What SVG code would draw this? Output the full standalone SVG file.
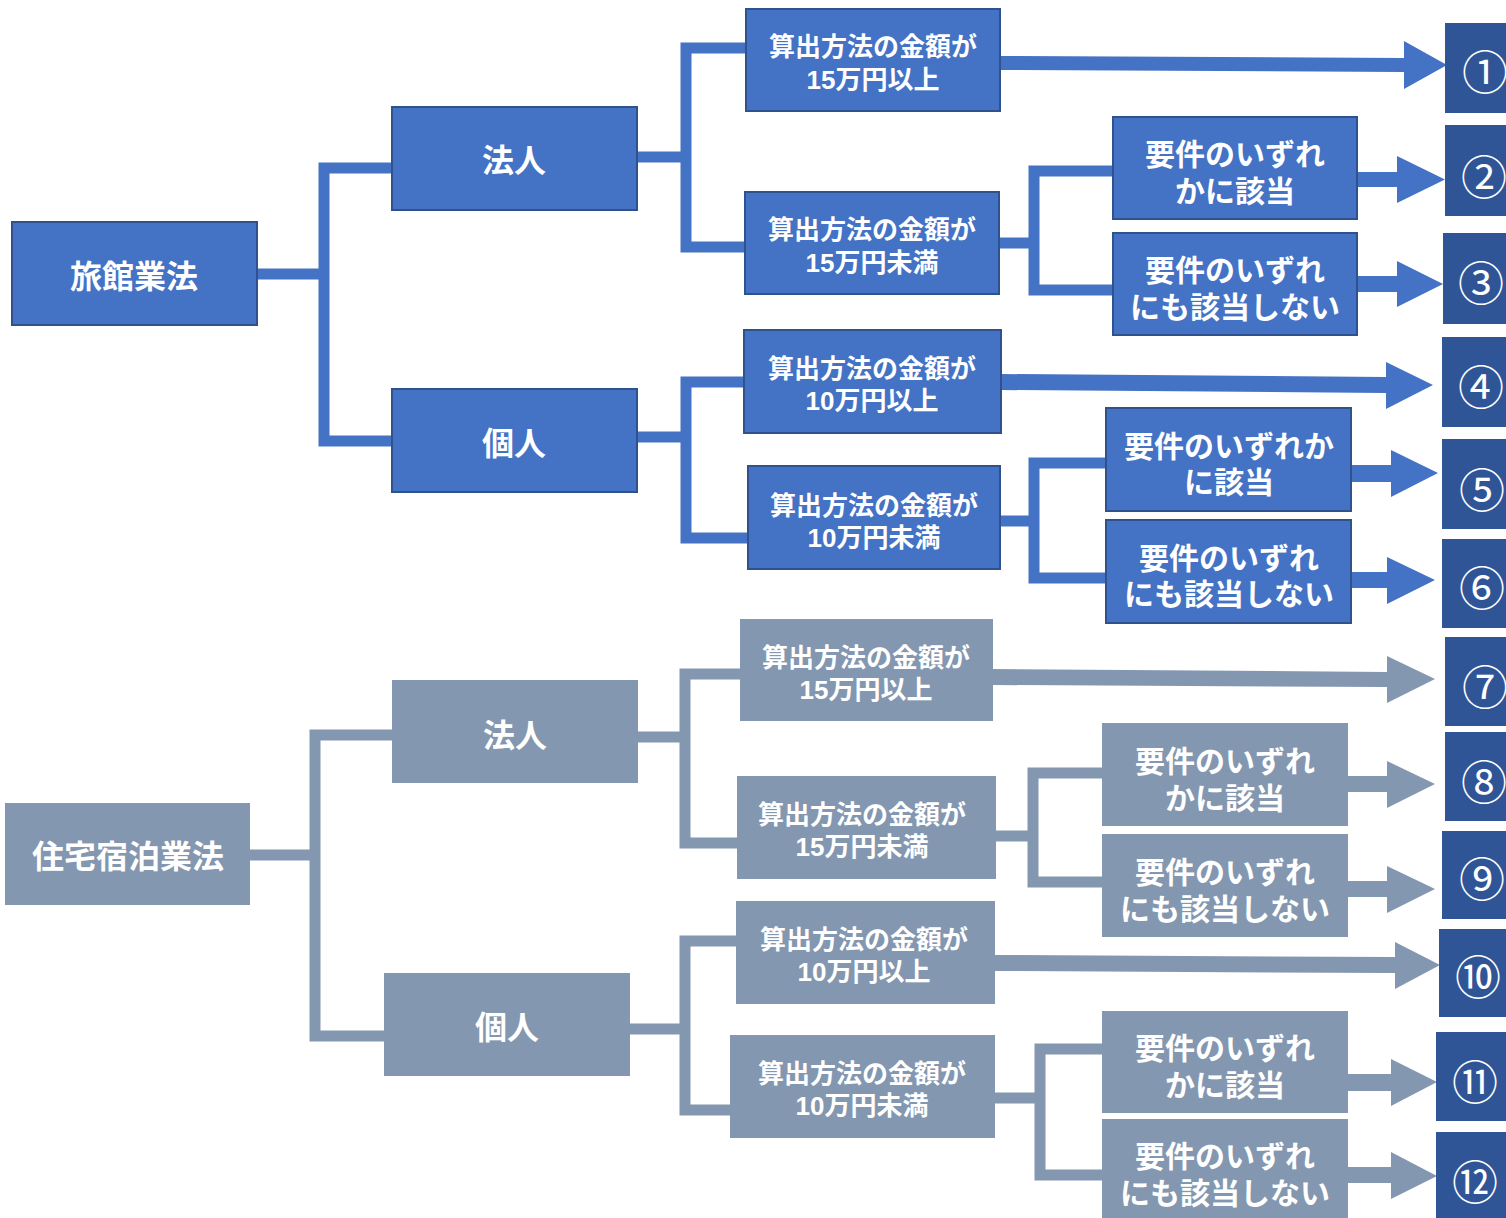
<svg xmlns="http://www.w3.org/2000/svg" width="1506" height="1218" viewBox="0 0 1506 1218">
<style>
.b{fill:#4472C4;stroke:#2F528F;stroke-width:2}
.g{fill:#8497B0}
.n{fill:#2F5597}
.cb{fill:none;stroke:#4472C4;stroke-width:11;stroke-linejoin:miter}
.cg{fill:none;stroke:#8497B0;stroke-width:11;stroke-linejoin:miter}
.ab{fill:#4472C4}
.ag{fill:#8497B0}
text{font-family:"Liberation Sans","Noto Sans CJK JP",sans-serif;fill:#fff;text-anchor:middle;dominant-baseline:central}
.l,.m,.r{transform:translateY(2px)}
.l{font-size:32px;font-weight:bold}
.m{font-size:26px;font-weight:bold}
.r{font-size:30px;font-weight:bold}
.num{font-family:"Noto Sans CJK JP",sans-serif;font-size:46px;font-weight:normal}
</style>
<rect width="1506" height="1218" fill="#fff"/>
<g id="connectors">
<path class="cb" d="M257,274 H324 V168 H392 M324,274 V441 H392"/>
<path class="cb" d="M637,157 H686 V48 H746 M686,157 V247 H745"/>
<path class="cb" d="M637,437 H686 V382 H744 M686,437 V538 H748"/>
<path class="cb" d="M999,243 H1034 V171 H1113 M1034,243 V290 H1113"/>
<path class="cb" d="M1000,521 H1034 V463 H1106 M1034,521 V578 H1106"/>
<path class="cg" d="M250,855 H315 V735 H392 M315,855 V1036 H384"/>
<path class="cg" d="M638,737 H685 V674 H740 M685,737 V843 H737"/>
<path class="cg" d="M630,1029 H685 V941 H736 M685,1029 V1110 H730"/>
<path class="cg" d="M996,836 H1033 V773 H1102 M1033,836 V882 H1102"/>
<path class="cg" d="M995,1098 H1040 V1049 H1102 M1040,1098 V1175 H1102"/>
<polygon class="ab" points="1000,56 1404,58 1404,41 1447,65 1404,89 1404,72 1000,70"/>
<polygon class="ab" points="1357,172 1397,172 1397,156 1445,179.5 1397,203 1397,187 1357,187"/>
<polygon class="ab" points="1357,276 1397,276 1397,261 1443,284 1397,307 1397,292 1357,292"/>
<polygon class="ab" points="1001,374 1386,377 1386,362 1433,385 1386,409 1386,393 1001,390"/>
<polygon class="ab" points="1351,465 1391,465 1391,450 1438,473 1391,497 1391,482 1351,482"/>
<polygon class="ab" points="1351,572 1387,572 1387,557 1435,580 1387,604 1387,588 1351,588"/>
<polygon class="ag" points="993,669 1387,672 1387,656 1435,679 1387,703 1387,687 993,685"/>
<polygon class="ag" points="1348,776 1387,776 1387,761 1435,784 1387,808 1387,792 1348,792"/>
<polygon class="ag" points="1348,881 1387,881 1387,866 1435,889 1387,913 1387,897 1348,897"/>
<polygon class="ag" points="995,955 1395,957 1395,942 1440,965 1395,989 1395,973 995,971"/>
<polygon class="ag" points="1348,1074 1391,1074 1391,1059 1437,1082 1391,1106 1391,1091 1348,1091"/>
<polygon class="ag" points="1348,1167 1391,1167 1391,1152 1437,1176 1391,1199 1391,1183 1348,1183"/>
</g>
<g id="ryokan"><rect class="b" x="12" y="222" width="245" height="103"/><text class="l" x="134" y="275">旅館業法</text></g>
<g id="r-hojin"><rect class="b" x="392" y="107" width="245" height="103"/><text class="l" x="514" y="159">法人</text></g>
<g id="r-kojin"><rect class="b" x="392" y="389" width="245" height="103"/><text class="l" x="514" y="442">個人</text></g>
<g id="r-h-ijo"><rect class="b" x="746" y="9" width="254" height="102"/><text class="m"><tspan x="873" y="45">算出方法の金額が</tspan><tspan x="873" y="78">15万円以上</tspan></text></g>
<g id="r-h-miman"><rect class="b" x="745" y="192" width="254" height="102"/><text class="m"><tspan x="872" y="228">算出方法の金額が</tspan><tspan x="872" y="261">15万円未満</tspan></text></g>
<g id="r-h-gai"><rect class="b" x="1113" y="117" width="244" height="102"/><text class="r"><tspan x="1235" y="152">要件のいずれ</tspan><tspan x="1235" y="189">かに該当</tspan></text></g>
<g id="r-h-hi"><rect class="b" x="1113" y="233" width="244" height="102"/><text class="r"><tspan x="1235" y="268">要件のいずれ</tspan><tspan x="1235" y="305">にも該当しない</tspan></text></g>
<g id="r-k-ijo"><rect class="b" x="744" y="330" width="257" height="103"/><text class="m"><tspan x="872" y="367">算出方法の金額が</tspan><tspan x="872" y="399">10万円以上</tspan></text></g>
<g id="r-k-miman"><rect class="b" x="748" y="466" width="252" height="103"/><text class="m"><tspan x="874" y="504">算出方法の金額が</tspan><tspan x="874" y="536">10万円未満</tspan></text></g>
<g id="r-k-gai"><rect class="b" x="1106" y="408" width="245" height="103"/><text class="r"><tspan x="1229" y="444">要件のいずれか</tspan><tspan x="1229" y="480">に該当</tspan></text></g>
<g id="r-k-hi"><rect class="b" x="1106" y="520" width="245" height="103"/><text class="r"><tspan x="1229" y="556">要件のいずれ</tspan><tspan x="1229" y="592">にも該当しない</tspan></text></g>
<g id="jutaku"><rect class="g" x="5" y="803" width="245" height="102"/><text class="l" x="128" y="855">住宅宿泊業法</text></g>
<g id="j-hojin"><rect class="g" x="392" y="680" width="246" height="103"/><text class="l" x="515" y="734">法人</text></g>
<g id="j-kojin"><rect class="g" x="384" y="973" width="246" height="103"/><text class="l" x="507" y="1026">個人</text></g>
<g id="j-h-ijo"><rect class="g" x="740" y="619" width="253" height="102"/><text class="m"><tspan x="866" y="656">算出方法の金額が</tspan><tspan x="866" y="688">15万円以上</tspan></text></g>
<g id="j-h-miman"><rect class="g" x="737" y="776" width="259" height="103"/><text class="m"><tspan x="862" y="813">算出方法の金額が</tspan><tspan x="862" y="845">15万円未満</tspan></text></g>
<g id="j-h-gai"><rect class="g" x="1102" y="723" width="246" height="103"/><text class="r"><tspan x="1225" y="759">要件のいずれ</tspan><tspan x="1225" y="796">かに該当</tspan></text></g>
<g id="j-h-hi"><rect class="g" x="1102" y="834" width="246" height="103"/><text class="r"><tspan x="1225" y="870">要件のいずれ</tspan><tspan x="1225" y="907">にも該当しない</tspan></text></g>
<g id="j-k-ijo"><rect class="g" x="736" y="901" width="259" height="103"/><text class="m"><tspan x="864" y="938">算出方法の金額が</tspan><tspan x="864" y="970">10万円以上</tspan></text></g>
<g id="j-k-miman"><rect class="g" x="730" y="1035" width="265" height="103"/><text class="m"><tspan x="862" y="1072">算出方法の金額が</tspan><tspan x="862" y="1104">10万円未満</tspan></text></g>
<g id="j-k-gai"><rect class="g" x="1102" y="1011" width="246" height="102"/><text class="r"><tspan x="1225" y="1046">要件のいずれ</tspan><tspan x="1225" y="1083">かに該当</tspan></text></g>
<g id="j-k-hi"><rect class="g" x="1102" y="1119" width="246" height="99"/><text class="r"><tspan x="1225" y="1154">要件のいずれ</tspan><tspan x="1225" y="1191">にも該当しない</tspan></text></g>
<g id="n1"><rect class="n" x="1445" y="23" width="80" height="90"/><text class="num" x="1485" y="69">①</text></g>
<g id="n2"><rect class="n" x="1445" y="125" width="80" height="91"/><text class="num" x="1484" y="174">②</text></g>
<g id="n3"><rect class="n" x="1443" y="233" width="80" height="91"/><text class="num" x="1481" y="280">③</text></g>
<g id="n4"><rect class="n" x="1442" y="337" width="80" height="90"/><text class="num" x="1481" y="384">④</text></g>
<g id="n5"><rect class="n" x="1442" y="439" width="80" height="90"/><text class="num" x="1482" y="487">⑤</text></g>
<g id="n6"><rect class="n" x="1442" y="539" width="80" height="89"/><text class="num" x="1482" y="585">⑥</text></g>
<g id="n7"><rect class="n" x="1445" y="637" width="80" height="89"/><text class="num" x="1485" y="684">⑦</text></g>
<g id="n8"><rect class="n" x="1445" y="732" width="80" height="89"/><text class="num" x="1484" y="779">⑧</text></g>
<g id="n9"><rect class="n" x="1442" y="831" width="80" height="88"/><text class="num" x="1482" y="876">⑨</text></g>
<g id="n10"><rect class="n" x="1439" y="929" width="80" height="88"/><text class="num" x="1478" y="974">⑩</text></g>
<g id="n11"><rect class="n" x="1436" y="1032" width="80" height="89"/><text class="num" x="1475" y="1079">⑪</text></g>
<g id="n12"><rect class="n" x="1436" y="1132" width="80" height="86"/><text class="num" x="1475" y="1179">⑫</text></g>
</svg>
